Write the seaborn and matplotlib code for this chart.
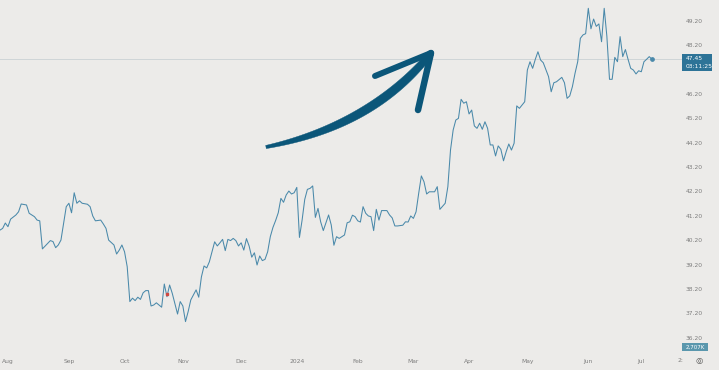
import numpy as np
import pandas as pd
import matplotlib
matplotlib.use("Agg")
import matplotlib.pyplot as plt
import seaborn as sns
from matplotlib.transforms import ScaledTranslation
from matplotlib.patches import Polygon, Rectangle
from matplotlib.lines import Line2D

# ---------------- data ----------------
start_date = "2023-07-27"
session = [0, 1, 2, 3, 4, 6, 7, 8, 10, 11, 13, 14, 15, 16, 18, 19, 20, 21, 22, 23,
           24, 25, 26, 27, 28, 29, 30, 31, 33, 34, 35, 36, 38, 39, 40, 41, 43, 44, 45, 46,
           47, 48, 49, 50, 51, 52, 53, 54, 55, 56, 57, 58, 59, 61, 62, 63, 64, 65, 67, 68,
           69, 70, 71, 72, 74, 75, 76, 77, 78, 79, 80, 81, 82, 83, 84, 85, 86, 87, 88, 89,
           90, 91, 92, 93, 94, 95, 96, 97, 98, 99, 100, 101, 102, 103, 104, 105, 106, 107, 108, 109,
           110, 111, 112, 113, 114, 115, 116, 117, 118, 119, 120, 121, 122, 124, 125, 126, 127, 128, 130, 131,
           132, 133, 134, 135, 136, 137, 138, 139, 140, 141, 142, 143, 144, 146, 147, 148, 149, 150, 152, 153,
           154, 155, 156, 157, 158, 159, 160, 161, 162, 164, 165, 166, 168, 169, 170, 171, 172, 173, 174, 175,
           176, 177, 178, 179, 180, 181, 182, 183, 184, 185, 186, 187, 188, 189, 190, 191, 192, 193, 194, 195,
           196, 198, 199, 200, 201, 202, 203, 204, 205, 207, 208, 209, 210, 212, 213, 214, 215, 216, 217, 218,
           219, 220, 221, 222, 223, 224, 225, 226, 227, 228, 229, 230, 231, 232, 233, 234, 235, 236, 237, 238,
           239, 240, 241, 242, 243, 244, 245, 246]
close = [40.45, 40.52, 40.74, 40.59, 40.90, 41.07, 41.20, 41.52, 41.48, 41.14, 41.00, 40.86, 40.83, 39.68, 39.91, 40.02, 39.98, 39.73, 39.84, 40.04,
         40.73, 41.41, 41.55, 41.16, 41.98, 41.55, 41.65, 41.55, 41.51, 41.41, 41.03, 40.83, 40.86, 40.70, 40.52, 40.04, 39.84, 39.47, 39.63, 39.84,
         39.56, 38.95, 37.52, 37.66, 37.56, 37.70, 37.61, 37.88, 37.97, 37.97, 37.34, 37.38, 37.47, 37.29, 38.24, 37.72, 38.20, 37.86, 37.01, 37.52,
         37.34, 36.70, 37.11, 37.59, 38.00, 37.70, 38.53, 38.98, 38.90, 39.15, 39.56, 39.97, 39.80, 39.93, 40.07, 39.61, 40.07, 40.02, 40.11, 40.02,
         39.80, 39.93, 39.63, 40.10, 39.80, 39.34, 39.52, 39.02, 39.39, 39.20, 39.25, 39.56, 40.18, 40.56, 40.84, 41.16, 41.75, 41.59, 41.89, 42.05,
         41.93, 41.98, 42.20, 40.15, 40.86, 41.71, 42.12, 42.16, 42.26, 40.97, 41.34, 40.79, 40.43, 41.07, 40.66, 39.83, 40.18, 40.11, 40.25, 40.75,
         40.79, 41.06, 41.00, 40.83, 40.78, 41.41, 41.14, 41.03, 41.00, 40.43, 41.30, 40.86, 41.25, 41.25, 41.07, 40.95, 40.62, 40.62, 40.65, 40.79,
         40.78, 41.03, 40.93, 41.20, 41.96, 42.67, 42.43, 41.93, 42.02, 42.02, 42.23, 41.30, 41.55, 42.23, 43.73, 44.55, 44.96, 45.03, 45.81, 45.65,
         45.71, 45.21, 45.37, 44.72, 44.62, 44.83, 44.58, 44.89, 44.62, 43.94, 43.94, 43.49, 43.90, 43.76, 43.29, 43.66, 43.98, 43.73, 44.01, 45.54,
         45.44, 45.71, 47.01, 47.35, 47.08, 47.45, 47.76, 47.42, 47.31, 46.74, 46.12, 46.49, 46.53, 46.71, 46.49, 45.85, 45.95, 46.33, 46.88, 47.35,
         48.31, 48.45, 48.50, 49.54, 48.70, 49.10, 48.80, 48.90, 48.17, 49.54, 48.40, 46.63, 46.63, 47.53, 47.35, 48.38, 47.56, 47.85, 47.45, 47.08,
         47.01, 46.85, 46.98, 46.94, 47.35, 47.45, 47.56, 47.45]
event_session = [63]
event_price = [37.83]
price_ticks = [36.20, 37.20, 38.20, 39.20, 40.20, 41.20, 42.20, 43.20, 44.20, 45.20, 46.20, 47.20, 48.20, 49.20]
month_labels = ["Aug", "Sep", "Oct", "Nov", "Dec", "2024", "Feb", "Mar", "Apr", "May", "Jun", "Jul"]
first_month = "2023-08-01"
timer_text = "03:11:25"
volume_text = "2,707K"

# ---------------- style ----------------
W, H = 719, 370
BG = "#ecebe9"
LINE = "#4a89aa"
ARROW = "#0b5679"
LABEL = "#7d7d7d"
BOX = "#2d7397"
VBOX = "#5a97ad"
FS = 4.3

sns.set_theme(style="white")
plt.rcParams["font.family"] = ["DejaVu Sans"]

fig = plt.figure(figsize=(W / 100, H / 100), dpi=100, facecolor=BG)
AX_R, AX_B = 665, 352
ax = fig.add_axes([0, 1 - AX_B / H, AX_R / W, AX_B / H])
ax.set_facecolor(BG)
for s in ax.spines.values():
    s.set_visible(False)

dates = pd.bdate_range(start_date, periods=max(session) + 30)
df = pd.DataFrame({"session": session, "close": close, "date": dates[session]})
sns.lineplot(data=df, x="session", y="close", ax=ax, color=LINE, linewidth=0.75, zorder=3)
last_p = close[-1]
ax.plot([session[-1]], [last_p], "o", color=LINE, ms=2.4, zorder=4)
ax.plot(event_session, event_price, "s", color="#d0473f", ms=1.6, zorder=4)

px_per_unit = 24.4
last_y = 59.3
top = last_p + last_y / px_per_unit
bottom = top - AX_B / px_per_unit
ax.set_ylim(bottom, top)
ax.set_xlim(0, AX_R / 2.65)

# last price dotted line
ax.axhline(last_p, xmin=0, xmax=682 / AX_R, color="#a9b7c0", lw=0.6,
           ls=(0, (1.2, 1.2)), clip_on=False, zorder=2)

# x axis month labels
month_starts = pd.date_range(first_month, periods=len(month_labels), freq="MS")
xpos = dates.searchsorted(month_starts)
ax.set_xticks(xpos)
ax.set_xticklabels(month_labels)
ax.tick_params(axis="x", length=0, pad=5, labelsize=FS, labelcolor=LABEL)

# y axis on right
ax.yaxis.tick_right()
ax.set_yticks(price_ticks)
ax.set_yticklabels([f"{v:.2f}" for v in price_ticks])
ax.tick_params(axis="y", length=0, pad=15, labelsize=FS, labelcolor=LABEL)
off = ScaledTranslation(0, -4 / 100, fig.dpi_scale_trans)
for lab in ax.get_yticklabels():
    lab.set_transform(lab.get_transform() + off)
ax.set_xlabel("")
ax.set_ylabel("")
ax.grid(False)

def fx(x):
    return x / W

def fy(y):
    return 1 - y / H

# price label box
fig.patches.append(Rectangle((fx(682), fy(71)), 30 / W, 17 / H, transform=fig.transFigure,
                             facecolor=BOX, edgecolor="none", zorder=5))
fig.text(fx(686), fy(58.5), f"{last_p:.2f}", color="white", fontsize=FS, va="center", ha="left", zorder=6)
fig.text(fx(686), fy(66.5), timer_text, color="white", fontsize=FS, va="center", ha="left", zorder=6)

# volume label box
fig.patches.append(Rectangle((fx(682), fy(351)), 26 / W, 8 / H, transform=fig.transFigure,
                             facecolor=VBOX, edgecolor="none", zorder=5))
fig.text(fx(695), fy(347), volume_text, color="white", fontsize=FS - 0.3, va="center", ha="center", zorder=6)

# bottom-right items
fig.text(fx(680), fy(361), "2:", color=LABEL, fontsize=FS, va="center", ha="center")
fig.text(fx(699), fy(361), "\u25ce", color="#555555", fontsize=6, va="center", ha="center")

# hand-drawn arrow
t = np.linspace(0, 1, 80)
P0 = np.array([266.0, 147.0]); P1 = np.array([372.0, 126.0]); P2 = np.array([431.0, 53.0])
pts = ((1 - t) ** 2)[:, None] * P0 + (2 * (1 - t) * t)[:, None] * P1 + (t ** 2)[:, None] * P2
d = (2 * (1 - t))[:, None] * (P1 - P0) + (2 * t)[:, None] * (P2 - P1)
d /= np.linalg.norm(d, axis=1)[:, None]
n = np.stack([-d[:, 1], d[:, 0]], axis=1)
w = 1.6 + 2.8 * np.sin(np.pi * t * 0.8)
poly = np.concatenate([pts + n * w[:, None], (pts - n * w[:, None])[::-1]])
poly_f = np.stack([fx(poly[:, 0]), fy(poly[:, 1])], axis=1)
fig.patches.append(Polygon(poly_f, closed=True, transform=fig.transFigure,
                           facecolor=ARROW, edgecolor=ARROW, lw=0.3, zorder=5))
for (x0, y0), (x1, y1), lw in [((431, 53), (375, 76), 6.0), ((431, 53), (418, 110), 6.5)]:
    fig.lines.append(Line2D([fx(x0), fx(x1)], [fy(y0), fy(y1)], transform=fig.transFigure,
                            color=ARROW, lw=lw * 0.72, solid_capstyle="round", zorder=5))

fig.savefig("out.png", dpi=100, facecolor=BG)
